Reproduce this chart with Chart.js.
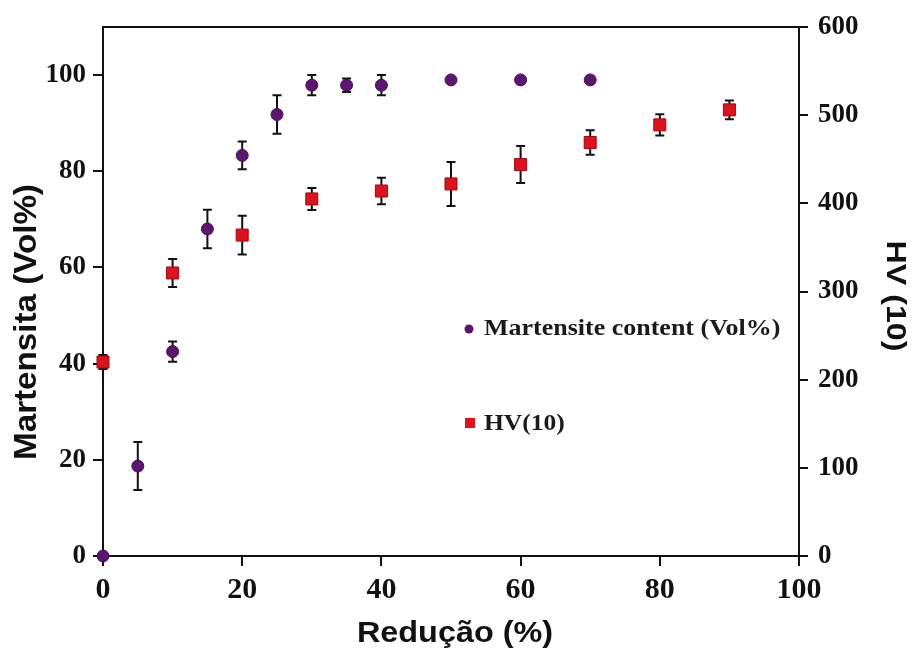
<!DOCTYPE html>
<html>
<head>
<meta charset="utf-8">
<script src="https://cdn.jsdelivr.net/npm/chart.js@4/dist/chart.umd.min.js"></script>
<style>
html,body{margin:0;padding:0;background:#fff;}
#wrap{width:916px;height:653px;}
</style>
</head>
<body>
<div id="wrap"><canvas id="c" width="916" height="653"></canvas></div>
<script>
// ---- data ----
const martX = [0, 5, 10, 15, 20, 25, 30, 35, 40, 50, 60, 70];
const martY = [0, 18.7, 42.5, 68, 83.3, 91.8, 97.9, 97.9, 97.9, 99, 99, 99];
const martErr = [0, 5, 2.1, 4, 2.9, 4, 2.1, 1.4, 2.1, 0, 0, 0];

const hvX = [0, 10, 20, 30, 40, 50, 60, 70, 80, 90];
const hvY = [220, 321, 364, 405, 414, 422, 444, 469, 489, 506];
const hvErr = [8, 16, 22, 12.5, 15, 25, 21, 14, 12, 10.5];

const xTicks = [0, 20, 40, 60, 80, 100];
const leftTicks = [0, 20, 40, 60, 80, 100];
const rightTicks = [0, 100, 200, 300, 400, 500, 600];

const labelMart = 'Martensite content (Vol%)';
const labelHv = 'HV(10)';
const titleX = 'Redução (%)';
const titleLeft = 'Martensita (Vol%)';
const titleRight = 'HV (10)';

const PURPLE = '#5b176f';
const RED = '#dc121c';

const martData = martX.map((x, i) => ({x: x, y: martY[i], e: martErr[i]}));
const hvData = hvX.map((x, i) => ({x: x, y: hvY[i], e: hvErr[i]}));

const errorBars = {
  id: 'errorBars',
  beforeDatasetsDraw(chart) {
    const ctx = chart.ctx;
    ctx.save();
    ctx.strokeStyle = '#111';
    ctx.lineWidth = 2;
    chart.data.datasets.forEach((ds, di) => {
      const meta = chart.getDatasetMeta(di);
      const ys = chart.scales[ds.yAxisID];
      meta.data.forEach((pt, i) => {
        const d = ds.data[i];
        if (!d.e) return;
        const top = ys.getPixelForValue(d.y + d.e);
        const bot = ys.getPixelForValue(d.y - d.e);
        const x = pt.x;
        ctx.beginPath();
        ctx.moveTo(x, top); ctx.lineTo(x, bot);
        ctx.moveTo(x - 4.5, top); ctx.lineTo(x + 4.5, top);
        ctx.moveTo(x - 4.5, bot); ctx.lineTo(x + 4.5, bot);
        ctx.stroke();
      });
    });
    ctx.restore();
  }
};

function drawText(ctx, text, x, y, font, rot, sx) {
  ctx.save();
  ctx.translate(x, y);
  ctx.rotate(rot);
  ctx.scale(sx, 1);
  ctx.font = font;
  ctx.fillStyle = '#111';
  ctx.textAlign = 'center';
  ctx.textBaseline = 'middle';
  ctx.fillText(text, 0, 0);
  ctx.restore();
}

const decor = {
  id: 'decor',
  afterDraw(chart) {
    const ctx = chart.ctx;
    // axis titles
    drawText(ctx, titleX, 455, 634, 'bold 30px "Liberation Sans", Arial, sans-serif', 0, 1.08);
    drawText(ctx, titleLeft, 27, 322, 'bold 31px "Liberation Sans", Arial, sans-serif', -Math.PI / 2, 1.07);
    drawText(ctx, titleRight, 895, 296, 'bold 28px "Liberation Sans", Arial, sans-serif', Math.PI / 2, 1.15);
    // legend
    ctx.save();
    ctx.fillStyle = PURPLE;
    ctx.beginPath(); ctx.arc(469, 329, 4.5, 0, Math.PI * 2); ctx.fill();
    ctx.fillStyle = RED;
    ctx.fillRect(465, 418, 10, 10);
    ctx.restore();
    ctx.save();
    ctx.font = 'bold 23px "Liberation Serif", "Times New Roman", serif';
    ctx.fillStyle = '#1a1a1a';
    ctx.textBaseline = 'middle';
    ctx.translate(484, 329); ctx.scale(1.13, 1);
    ctx.fillText(labelMart, 0, 0);
    ctx.restore();
    ctx.save();
    ctx.font = 'bold 23px "Liberation Serif", "Times New Roman", serif';
    ctx.fillStyle = '#1a1a1a';
    ctx.textBaseline = 'middle';
    ctx.translate(484, 424); ctx.scale(1.11, 1);
    ctx.fillText(labelHv, 0, 0);
    ctx.restore();
  }
};

const tickFontY = {family: '"Liberation Serif", "Times New Roman", serif', size: 27, weight: 'bold'};
const tickFontX = {family: '"Liberation Serif", "Times New Roman", serif', size: 30, weight: 'bold'};

new Chart(document.getElementById('c'), {
  type: 'scatter',
  data: {
    datasets: [
      {
        label: labelMart, data: martData, yAxisID: 'y', xAxisID: 'x',
        pointStyle: 'circle', pointRadius: 6, pointHoverRadius: 6,
        backgroundColor: PURPLE, borderColor: '#4a0d5e', borderWidth: 1,
        showLine: false, clip: false
      },
      {
        label: labelHv, data: hvData, yAxisID: 'y1', xAxisID: 'x',
        pointStyle: 'rect', pointRadius: 8.5, pointHoverRadius: 8.5,
        backgroundColor: RED, borderColor: '#a00a12', borderWidth: 1,
        showLine: false, clip: false
      }
    ]
  },
  options: {
    responsive: false,
    animation: false,
    events: [],
    layout: {padding: 0},
    plugins: {legend: {display: false}, tooltip: {enabled: false}},
    scales: {
      x: {
        type: 'linear', position: 'bottom', min: 0, max: 100,
        afterBuildTicks: (s) => { s.ticks = xTicks.map(v => ({value: v})); },
        ticks: {font: tickFontX, color: '#111', padding: 6, maxRotation: 0},
        grid: {drawOnChartArea: false, drawTicks: true, tickLength: 10, color: '#111', lineWidth: 2},
        border: {display: true, color: '#111', width: 2},
        afterFit: (s) => { s.height = 97; }
      },
      xTop: {
        type: 'linear', position: 'top', min: 0, max: 100,
        ticks: {display: false},
        grid: {display: false, drawTicks: false, drawOnChartArea: false},
        border: {display: true, color: '#111', width: 2},
        afterFit: (s) => { s.height = 27; }
      },
      y: {
        type: 'linear', position: 'left', min: 0, max: 110,
        afterBuildTicks: (s) => { s.ticks = leftTicks.map(v => ({value: v})); },
        ticks: {font: tickFontY, color: '#111', padding: 7},
        grid: {drawOnChartArea: false, drawTicks: true, tickLength: 10, color: '#111', lineWidth: 2},
        border: {display: true, color: '#111', width: 2},
        afterFit: (s) => { s.width = 103; }
      },
      y1: {
        type: 'linear', position: 'right', min: 0, max: 600,
        afterBuildTicks: (s) => { s.ticks = rightTicks.map(v => ({value: v})); },
        ticks: {font: tickFontY, color: '#111', padding: 10},
        grid: {drawOnChartArea: false, drawTicks: true, tickLength: 9, color: '#111', lineWidth: 2},
        border: {display: true, color: '#111', width: 2},
        afterFit: (s) => { s.width = 117; }
      }
    }
  },
  plugins: [errorBars, decor]
});
</script>
</body>
</html>
